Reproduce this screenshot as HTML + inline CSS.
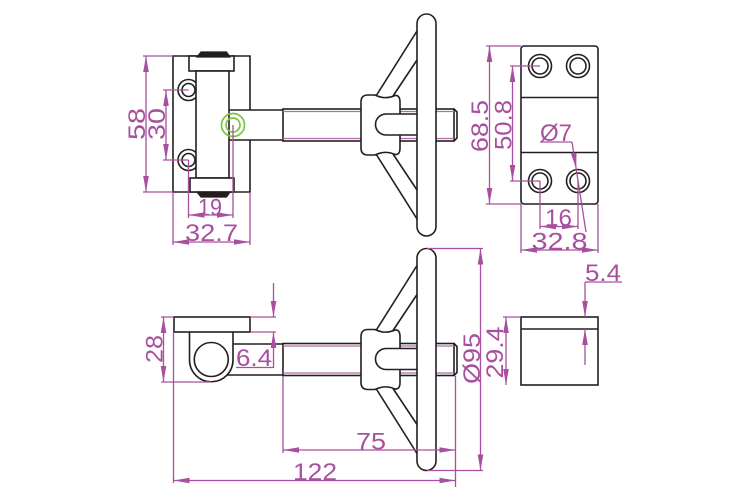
<!DOCTYPE html>
<html><head><meta charset="utf-8"><style>
html,body{margin:0;padding:0;background:#fff;}
svg{display:block;}
text{font-family:"Liberation Sans",sans-serif;fill:#a8509f;font-size:24px;}
</style></head><body>
<svg width="750" height="500" viewBox="0 0 750 500" xmlns="http://www.w3.org/2000/svg">
<defs>
<marker id="ar" markerUnits="userSpaceOnUse" markerWidth="16" markerHeight="8" viewBox="0 0 16 8" refX="16" refY="4" orient="auto-start-reverse">
<path d="M0,1.2 L16,4 L0,6.8 Z" fill="#a8509f"/>
</marker>
</defs>

<!-- ===== Handwheel + shaft (top view) ===== -->
<g id="wheelTop" fill="none" stroke="#231f20" stroke-width="1.6">
 <rect x="283" y="109" width="171" height="32" fill="#fff"/>
 <path d="M454,109 L457,112 L457,138 L454,141"/>
 <line x1="283" y1="111.5" x2="454" y2="111.5" stroke="#b36aae" stroke-width="1.3"/>
 <line x1="283" y1="138.5" x2="454" y2="138.5" stroke="#b36aae" stroke-width="1.3"/>
 <line x1="376" y1="96" x2="417" y2="31"/>
 <line x1="393" y1="96" x2="417" y2="60"/>
 <line x1="376" y1="154" x2="417" y2="219"/>
 <line x1="393" y1="154" x2="417" y2="190"/>
 <path d="M361,102 Q361,95 368,95 L375,95 Q385,100 395,95.5 Q400,95 400,102 L400,148 Q400,155 395,154.5 Q385,150 375,155 L368,155 Q361,155 361,148 Z" fill="#fff"/>
 <path d="M417,114 L386,114 A10.5,10.5 0 0 0 386,135 L417,135" fill="#fff"/>
 <rect x="417" y="14" width="19" height="222" rx="9.5" ry="9.5" fill="#fff"/>
</g>

<!-- ===== Handwheel + shaft (bottom view) ===== -->
<g transform="translate(0,234.5)" fill="none" stroke="#231f20" stroke-width="1.6">
 <rect x="283" y="109" width="171" height="32" fill="#fff"/>
 <path d="M454,109 L457,112 L457,138 L454,141"/>
 <line x1="283" y1="111.5" x2="454" y2="111.5" stroke="#b36aae" stroke-width="1.3"/>
 <line x1="283" y1="138.5" x2="454" y2="138.5" stroke="#b36aae" stroke-width="1.3"/>
 <line x1="376" y1="96" x2="417" y2="31"/>
 <line x1="393" y1="96" x2="417" y2="60"/>
 <line x1="376" y1="154" x2="417" y2="219"/>
 <line x1="393" y1="154" x2="417" y2="190"/>
 <path d="M361,102 Q361,95 368,95 L375,95 Q385,100 395,95.5 Q400,95 400,102 L400,148 Q400,155 395,154.5 Q385,150 375,155 L368,155 Q361,155 361,148 Z" fill="#fff"/>
 <path d="M417,114 L386,114 A10.5,10.5 0 0 0 386,135 L417,135" fill="#fff"/>
 <rect x="417" y="14" width="19" height="222" rx="9.5" ry="9.5" fill="#fff"/>
</g>

<!-- ===== Top-left hinge view ===== -->
<g fill="none" stroke="#231f20" stroke-width="1.6">
 <circle cx="188.5" cy="90" r="10.5"/>
 <circle cx="188.5" cy="90" r="6.5"/>
 <circle cx="188.5" cy="160" r="10.5"/>
 <circle cx="188.5" cy="160" r="6.5"/>
 <path d="M250,110 L250,56 L173,56 L173,192 L250,192 L250,140"/>
 <path d="M229,110 H283 M229,140 H283"/>
 <rect x="189" y="56" width="45" height="15" fill="#fff"/>
 <path d="M197,57 L201,52 L226.5,52 L230,57 Z" fill="#231f20" stroke-width="1.2"/>
 <rect x="196" y="71" width="33" height="107" fill="#fff"/>
 <rect x="190" y="178" width="44" height="14" fill="#fff"/>
 <path d="M197,192 L201,197 L226.5,197 L230,192 Z" fill="#231f20" stroke-width="1.2"/>
</g>
<g fill="none" stroke="#7cc242" stroke-width="1.7">
 <circle cx="233" cy="125" r="11.5"/>
 <circle cx="233" cy="125" r="7"/>
</g>

<!-- ===== Top-right plate view ===== -->
<g fill="none" stroke="#231f20" stroke-width="1.6">
 <rect x="521" y="46" width="77" height="158" rx="3" ry="3" fill="#fff"/>
 <line x1="521" y1="97.5" x2="598" y2="97.5"/>
 <line x1="521" y1="152.5" x2="598" y2="152.5"/>
 <circle cx="540" cy="66" r="11.5"/><circle cx="540" cy="66" r="8"/>
 <circle cx="578" cy="66" r="11.5"/><circle cx="578" cy="66" r="8"/>
 <circle cx="540" cy="181" r="11.5"/><circle cx="540" cy="181" r="8"/>
 <circle cx="578" cy="181" r="11.5"/><circle cx="578" cy="181" r="8"/>
</g>

<!-- ===== Bottom-left side view ===== -->
<g fill="none" stroke="#231f20" stroke-width="1.6">
 <path d="M233,344 H283 M226.5,375 H283"/>
 <path d="M189.5,332 V360 A21.75,21.75 0 0 0 233,360 V332" fill="#fff"/>
 <circle cx="211.25" cy="359.5" r="17"/>
 <rect x="174" y="317" width="76" height="15" fill="#fff"/>
</g>

<!-- ===== Bottom-right block ===== -->
<g fill="none" stroke="#231f20" stroke-width="1.6">
 <rect x="521" y="317" width="77" height="68" fill="#fff"/>
 <line x1="521" y1="329" x2="598" y2="329"/>
</g>

<!-- ===== Dimensions ===== -->
<g fill="none" stroke="#a8509f" stroke-width="1.3">
 <!-- 58 -->
 <path d="M143,56 H173 M143,192 H173"/>
 <line x1="146" y1="56" x2="146" y2="192" marker-start="url(#ar)" marker-end="url(#ar)"/>
 <!-- 30 -->
 <path d="M163,90 H188.5 M163,160 H188.5"/>
 <line x1="166" y1="90" x2="166" y2="160" marker-start="url(#ar)" marker-end="url(#ar)"/>
 <!-- 19 -->
 <path d="M188.5,160 V218 M233,125 V218"/>
 <line x1="188.5" y1="215" x2="233" y2="215" marker-start="url(#ar)" marker-end="url(#ar)"/>
 <!-- 32.7 -->
 <path d="M173,192 V245 M250,192 V245"/>
 <line x1="173" y1="242" x2="250" y2="242" marker-start="url(#ar)" marker-end="url(#ar)"/>
 <!-- 68.5 -->
 <path d="M486,46 H521 M486,204 H521"/>
 <line x1="489.5" y1="46" x2="489.5" y2="204" marker-start="url(#ar)" marker-end="url(#ar)"/>
 <!-- 50.8 -->
 <path d="M510,66 H540 M510,181 H540"/>
 <line x1="512.5" y1="66" x2="512.5" y2="181" marker-start="url(#ar)" marker-end="url(#ar)"/>
 <!-- ø7 -->
 <path d="M540,142 H572"/>
 <line x1="572" y1="142" x2="576.2" y2="169" marker-end="url(#ar)"/>
 <line x1="576.2" y1="169" x2="586" y2="232"/>
 <!-- 16 -->
 <path d="M540,181 V229 M578,181 V229"/>
 <line x1="540" y1="226.5" x2="578" y2="226.5" marker-start="url(#ar)" marker-end="url(#ar)"/>
 <!-- 32.8 -->
 <path d="M521,204 V253 M598,204 V253"/>
 <line x1="521" y1="250" x2="598" y2="250" marker-start="url(#ar)" marker-end="url(#ar)"/>
 <!-- 28 -->
 <path d="M161,317 H174 M161,382 H211"/>
 <line x1="163.5" y1="317" x2="163.5" y2="382" marker-start="url(#ar)" marker-end="url(#ar)"/>
 <!-- 122 ext -->
 <path d="M173.5,332 V483"/>
 <!-- 6.4 -->
 <path d="M250,317 H276 M250,332 H276 M236,367.5 H273.5"/>
 <line x1="273.5" y1="283" x2="273.5" y2="317" marker-end="url(#ar)"/>
 <line x1="273.5" y1="368" x2="273.5" y2="332" marker-end="url(#ar)"/>
 <!-- 75 -->
 <path d="M283,376 V453 M455.5,376 V487"/>
 <line x1="283" y1="450" x2="455.5" y2="450" marker-start="url(#ar)" marker-end="url(#ar)"/>
 <!-- 122 -->
 <line x1="173.5" y1="480.5" x2="455.5" y2="480.5" marker-start="url(#ar)" marker-end="url(#ar)"/>
 <!-- ø95 -->
 <path d="M427,248.5 H483 M427,470.5 H483"/>
 <line x1="480.5" y1="248.5" x2="480.5" y2="470.5" marker-start="url(#ar)" marker-end="url(#ar)"/>
 <!-- 29.4 -->
 <path d="M503,317 H521"/>
 <line x1="506" y1="317" x2="506" y2="385" marker-start="url(#ar)" marker-end="url(#ar)"/>
 <!-- 5.4 -->
 <path d="M585,282 H622"/>
 <line x1="585" y1="282" x2="585" y2="317" marker-end="url(#ar)"/>
 <line x1="585" y1="365" x2="585" y2="329" marker-end="url(#ar)"/>
</g>

<!-- ===== Dimension text ===== -->
<text transform="translate(145,124) rotate(-90)" text-anchor="middle" textLength="32" lengthAdjust="spacingAndGlyphs">58</text>
<text transform="translate(165,124) rotate(-90)" text-anchor="middle" textLength="32" lengthAdjust="spacingAndGlyphs">30</text>
<text x="198" y="215.5" textLength="24" lengthAdjust="spacingAndGlyphs">19</text>
<text x="185" y="241" textLength="53" lengthAdjust="spacingAndGlyphs">32.7</text>
<text transform="translate(488,126) rotate(-90)" text-anchor="middle" textLength="52" lengthAdjust="spacingAndGlyphs">68.5</text>
<text transform="translate(511.5,125) rotate(-90)" text-anchor="middle" textLength="50" lengthAdjust="spacingAndGlyphs">50.8</text>
<text x="540" y="141" textLength="32" lengthAdjust="spacingAndGlyphs">Ø7</text>
<text x="545" y="226" textLength="27" lengthAdjust="spacingAndGlyphs">16</text>
<text x="531.5" y="249.5" font-size="25" textLength="56" lengthAdjust="spacingAndGlyphs">32.8</text>
<text transform="translate(162.5,349) rotate(-90)" text-anchor="middle" textLength="28" lengthAdjust="spacingAndGlyphs">28</text>
<text x="236" y="366" textLength="36" lengthAdjust="spacingAndGlyphs">6.4</text>
<text x="356" y="449.5" font-size="25" textLength="30" lengthAdjust="spacingAndGlyphs">75</text>
<text x="293" y="480" textLength="44" lengthAdjust="spacingAndGlyphs">122</text>
<text transform="translate(480,358.5) rotate(-90)" text-anchor="middle" textLength="51" lengthAdjust="spacingAndGlyphs">Ø95</text>
<text transform="translate(503,352.5) rotate(-90)" text-anchor="middle" font-size="22" textLength="52" lengthAdjust="spacingAndGlyphs">29.4</text>
<text x="585" y="281" textLength="36" lengthAdjust="spacingAndGlyphs">5.4</text>
</svg>
</body></html>
